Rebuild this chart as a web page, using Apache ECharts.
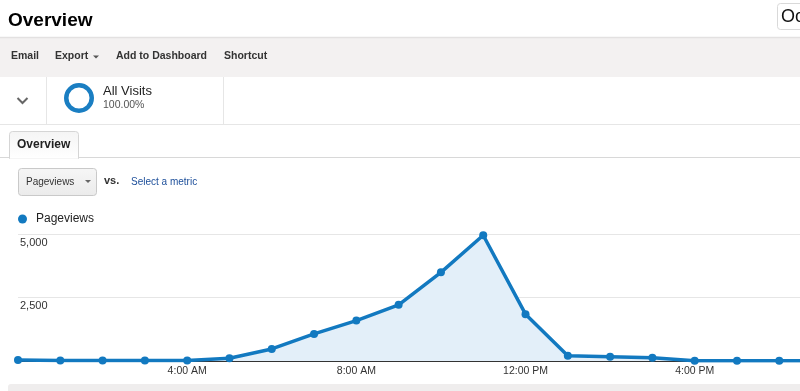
<!DOCTYPE html>
<html>
<head>
<meta charset="utf-8">
<script src="https://cdn.jsdelivr.net/npm/echarts@6/dist/echarts.min.js"></script>
<style>
html,body{margin:0;padding:0;background:#fff;}
#chart{width:800px;height:391px;}
</style>
</head>
<body>
<div id="chart"></div>
<script>
// Hours of the day (tick labels)
const hours = ["12:00 AM","1:00 AM","2:00 AM","3:00 AM","4:00 AM","5:00 AM","6:00 AM","7:00 AM","8:00 AM","9:00 AM","10:00 AM","11:00 AM","12:00 PM","1:00 PM","2:00 PM","3:00 PM","4:00 PM","5:00 PM","6:00 PM","7:00 PM"];
// Pageviews per hour
const pageviews = [40, 15, 15, 20, 20, 110, 475, 1065, 1590, 2210, 3490, 4950, 1845, 210, 170, 130, 8, 8, 8, 8];
// Y axis ticks
const yMin = 0, yMax = 5000, yStep = 2500;
// Visible hour window (the page is cropped on the right)
const xMin = 0, xMax = 18.49, xStep = 4;
const seriesName = "Pageviews";

const FONT = "'Liberation Sans', Arial, Helvetica, sans-serif";
const BLUE = "#1279c0";

const chart = echarts.init(document.getElementById('chart'), null, {renderer:'canvas'});

const graphic = [
  {type:'text', x:8, y:21, style:{text:'Overview', fontFamily:FONT, fontSize:19, fontWeight:'bold', fill:'#000', verticalAlign:'middle'}},
  {type:'rect', shape:{x:777.5, y:3.5, width:40, height:26, r:3}, style:{fill:'#fff', stroke:'#d9d9d9', lineWidth:1}},
  {type:'text', x:781, y:17, style:{text:'Oc', fontFamily:FONT, fontSize:18, fill:'#111', verticalAlign:'middle'}},
  {type:'rect', shape:{x:0, y:37, width:800, height:40}, style:{fill:'#f3f1f1'}},
  {type:'line', shape:{x1:0, y1:37.5, x2:800, y2:37.5}, style:{stroke:'#e3e1e1', lineWidth:1.5}},
  {type:'text', x:11, y:56, style:{text:'Email', fontFamily:FONT, fontSize:10.5, fontWeight:'bold', fill:'#333', verticalAlign:'middle'}},
  {type:'text', x:55, y:56, style:{text:'Export', fontFamily:FONT, fontSize:10.5, fontWeight:'bold', fill:'#333', verticalAlign:'middle'}},
  {type:'polygon', shape:{points:[[93,55.5],[99,55.5],[96,58.5]]}, style:{fill:'#555'}},
  {type:'text', x:116, y:56, style:{text:'Add to Dashboard', fontFamily:FONT, fontSize:10.5, fontWeight:'bold', fill:'#333', verticalAlign:'middle'}},
  {type:'text', x:224, y:56, style:{text:'Shortcut', fontFamily:FONT, fontSize:10.5, fontWeight:'bold', fill:'#333', verticalAlign:'middle'}},
  {type:'line', shape:{x1:46.5, y1:77, x2:46.5, y2:124}, style:{stroke:'#e6e6e6', lineWidth:1}},
  {type:'line', shape:{x1:223.5, y1:77, x2:223.5, y2:124}, style:{stroke:'#e6e6e6', lineWidth:1}},
  {type:'line', shape:{x1:0, y1:124.5, x2:800, y2:124.5}, style:{stroke:'#e6e6e6', lineWidth:1}},
  {type:'polyline', shape:{points:[[17.5,98],[22.5,103],[27.5,98]]}, style:{stroke:'#666', lineWidth:2, fill:null}},
  {type:'ring', shape:{cx:79, cy:98, r:15, r0:10.5}, style:{fill:'#1a7ec2'}},
  {type:'text', x:103, y:91, style:{text:'All Visits', fontFamily:FONT, fontSize:13, fill:'#222', verticalAlign:'middle'}},
  {type:'text', x:103, y:105.5, style:{text:'100.00%', fontFamily:FONT, fontSize:10.5, fill:'#555', verticalAlign:'middle'}},
  {type:'line', shape:{x1:0, y1:157.5, x2:800, y2:157.5}, style:{stroke:'#d8d8d8', lineWidth:1}},
  {type:'rect', shape:{x:9.5, y:131.5, width:69, height:27, r:[3,3,0,0]}, style:{fill:new echarts.graphic.LinearGradient(0,0,0,1,[{offset:0,color:'#f4f4f4'},{offset:1,color:'#ffffff'}]), stroke:'#d5d5d5', lineWidth:1}},
  {type:'line', shape:{x1:10, y1:158, x2:78, y2:158}, style:{stroke:'#fff', lineWidth:1.5}},
  {type:'text', x:17, y:145, style:{text:'Overview', fontFamily:FONT, fontSize:12, fontWeight:'bold', fill:'#222', verticalAlign:'middle'}},
  {type:'rect', shape:{x:18.5, y:168.5, width:78, height:27, r:3}, style:{fill:new echarts.graphic.LinearGradient(0,0,0,1,[{offset:0,color:'#f6f6f6'},{offset:1,color:'#ebebeb'}]), stroke:'#c9c9c9', lineWidth:1}},
  {type:'text', x:26, y:182, style:{text:'Pageviews', fontFamily:FONT, fontSize:10, fill:'#333', verticalAlign:'middle'}},
  {type:'polygon', shape:{points:[[85,180],[91,180],[88,183]]}, style:{fill:'#666'}},
  {type:'text', x:104, y:181, style:{text:'vs.', fontFamily:FONT, fontSize:11, fontWeight:'bold', fill:'#333', verticalAlign:'middle'}},
  {type:'text', x:131, y:182, style:{text:'Select a metric', fontFamily:FONT, fontSize:10, fill:'#1d4f9a', verticalAlign:'middle'}},
  {type:'rect', shape:{x:8, y:384, width:800, height:12, r:3}, style:{fill:'#efeded'}}
];

chart.setOption({
  animation:false,
  textStyle:{fontFamily:FONT},
  graphic: graphic,
  legend:{
    left:13, top:208,
    icon:'circle', itemWidth:9, itemHeight:9,
    textStyle:{fontFamily:FONT, fontSize:12, color:'#222', padding:[0,0,0,4]},
    data:[seriesName]
  },
  grid:{left:18, top:234, right:0, height:127, containLabel:false},
  xAxis:{
    type:'value', min:xMin, max:xMax, interval:xStep,
    axisLine:{show:true, onZero:false, lineStyle:{color:'#333', width:1}},
    axisTick:{show:false},
    axisLabel:{
      showMinLabel:false, showMaxLabel:false,
      fontFamily:FONT, fontSize:10.5, color:'#333', margin:5,
      formatter:function(v){return hours[Math.round(v)] || '';}
    },
    splitLine:{show:false}
  },
  yAxis:{
    type:'value', min:yMin, max:yMax, interval:yStep,
    axisLine:{show:false}, axisTick:{show:false},
    axisLabel:{
      inside:true, showMinLabel:false, margin:2,
      verticalAlign:'top', lineHeight:13, padding:[2,0,0,0],
      fontFamily:FONT, fontSize:11, color:'#333',
      formatter:function(v){return v.toLocaleString('en-US');}
    },
    splitLine:{show:true, lineStyle:{color:'#e6e6e6', width:1}}
  },
  series:[{
    name:seriesName, type:'line',
    data:pageviews.map(function(v,i){return [i, v];}),
    clip:true,
    symbol:'circle', symbolSize:8, showSymbol:true,
    lineStyle:{color:BLUE, width:3.5},
    itemStyle:{color:BLUE},
    areaStyle:{color:'#e3eff9', opacity:1},
    z:3
  }]
});
</script>
</body>
</html>
